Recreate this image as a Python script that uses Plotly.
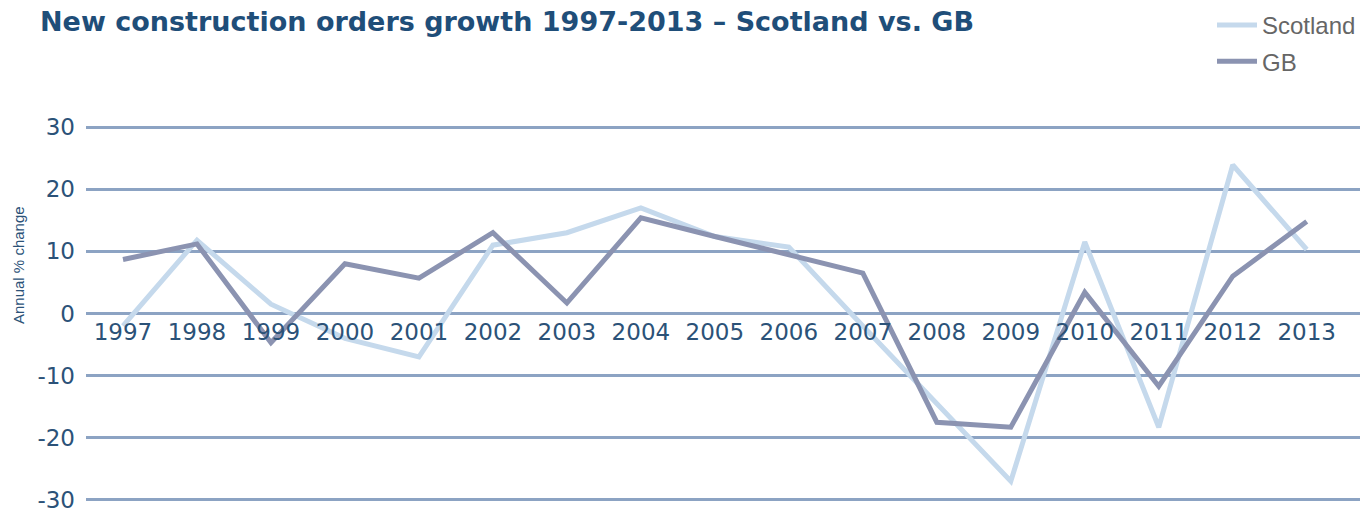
import plotly.graph_objects as go

years = [str(y) for y in range(1997, 2014)]
scotland = [-2.0, 11.8, 1.5, -4.0, -7.0, 11.0, 13.0, 17.0, 12.4, 10.7, -2.0, -14.5, -27.0, 11.5, -18.3, 23.9, 10.3]
gb = [8.7, 11.2, -4.7, 8.0, 5.7, 13.0, 1.7, 15.4, 12.4, 9.5, 6.5, -17.5, -18.3, 3.4, -11.7, 6.0, 14.8]
y_ticks = [-30, -20, -10, 0, 10, 20, 30]
y_tick_text = ["-30", "-20", "-10", "0", "10", "20", "30"]

title_color = "#1f4e79"
axis_text = "#2b5278"
grid_color = "#8ca3c3"

fig = go.Figure()
fig.add_trace(go.Scatter(x=years, y=scotland, mode="lines", name="Scotland", legendgroup="a",
                         line=dict(color="#c5d9ec", width=5)))
fig.add_trace(go.Scatter(x=years, y=gb, mode="lines", name="GB", legendgroup="b",
                         line=dict(color="#8b93b1", width=5)))

fig.update_layout(
    width=1362, height=511,
    margin=dict(l=86, r=2, t=124, b=8, autoexpand=False),
    paper_bgcolor="white", plot_bgcolor="white",
    title=dict(text="<b>New construction orders growth 1997-2013 – Scotland vs. GB</b>",
               x=40/1362, xref="container", xanchor="left",
               y=1-22/511, yref="container", yanchor="middle",
               font=dict(family="DejaVu Sans", size=27, color=title_color)),
    legend=dict(x=1212/1362, xref="container", xanchor="left",
                y=1-3/511, yref="container", yanchor="top",
                font=dict(family="Liberation Sans", size=24, color="#666666"),
                bgcolor="rgba(0,0,0,0)", tracegroupgap=2, itemwidth=40),
    showlegend=True,
    xaxis=dict(type="category", range=[-0.5, 16.72], showgrid=False, zeroline=False,
               showline=False, ticks="", anchor="free", position=0.5,
               tickfont=dict(family="DejaVu Sans", size=23, color=axis_text),
               ticklabelstandoff=2),
    yaxis=dict(range=[-30.5, 30.5], tickvals=y_ticks, ticktext=y_tick_text,
               showgrid=True, gridcolor=grid_color, ticklabeloverflow="allow",
               gridwidth=3, zeroline=False, showline=False, ticks="",
               tickfont=dict(family="DejaVu Sans", size=23, color=axis_text),
               ticklabelstandoff=10),
)
fig.add_annotation(text="Annual % change", textangle=-90,
                   x=(18-86)/1274, xref="paper", xanchor="center",
                   y=(503-265)/379, yref="paper", yanchor="middle",
                   showarrow=False, font=dict(family="Liberation Sans", size=15, color=axis_text))
fig.write_html("out.html", config={"displayModeBar": False},
               post_script="document.body.style.margin='0';document.body.style.overflow='hidden';")
